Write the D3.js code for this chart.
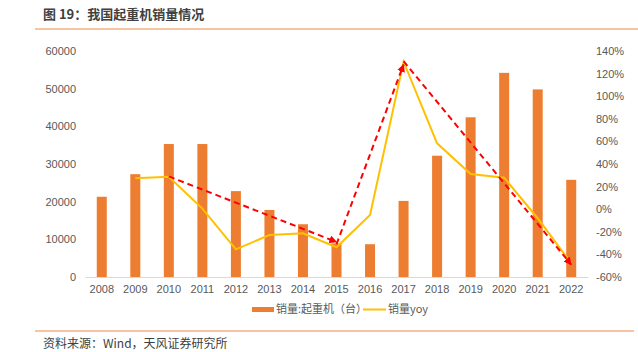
<!DOCTYPE html>
<html><head><meta charset="utf-8">
<script src="https://cdn.jsdelivr.net/npm/d3@7"></script>
<style>body{margin:0;background:#fff;} svg{display:block;font-family:"Noto Sans CJK SC","Liberation Sans",Arial,sans-serif;}</style>
</head><body>
<svg id="c" width="638" height="352"></svg>
<script>
const years = ["2008","2009","2010","2011","2012","2013","2014","2015","2016","2017","2018","2019","2020","2021","2022"];
const sales = [21300,27300,35300,35300,22800,17800,14000,8900,8700,20200,32200,42400,54200,49800,25800];
const yoy = [null,27.3,28.8,0.5,-35.5,-22.8,-21.3,-33.7,-5.1,130.5,58.3,31.2,27.9,-8,-47.9];
const leftTicks = [0,10000,20000,30000,40000,50000,60000];
const rightTicks = [-60,-40,-20,0,20,40,60,80,100,120,140];
const trendFrom = [["2010",29],["2015",-31],["2017",131]];
const trendTo = [["2015",-29],["2017",128],["2022",-49]];

(function(){
const svg = d3.select("#c");
const pL = 85, pR = 588, pT = 51, pB = 277;
const x = d3.scaleBand().domain(years).range([pL,pR]);
const yL = d3.scaleLinear().domain([0,60000]).range([pB,pT]);
const yR = d3.scaleLinear().domain([-60,140]).range([pB,pT]);
const cx = d => x(d)+x.bandwidth()/2;

// title
svg.append("text").attr("x",43).attr("y",19).attr("font-size",13).attr("font-weight","bold").attr("fill","#404040").text("图 19：我国起重机销量情况");
svg.append("line").attr("x1",35).attr("x2",638).attr("y1",29).attr("y2",29).attr("stroke","#f4b183").attr("stroke-width",1.5);

// axes
const axL = svg.append("g").attr("transform",`translate(${pL},0)`).call(d3.axisLeft(yL).tickValues(leftTicks).tickSize(0).tickPadding(9).tickFormat(d3.format("d")));
const axR = svg.append("g").attr("transform",`translate(${pR},0)`).call(d3.axisRight(yR).tickValues(rightTicks).tickSize(0).tickPadding(8).tickFormat(d=>d+"%"));
const axB = svg.append("g").attr("transform",`translate(0,${pB})`).call(d3.axisBottom(x).tickSize(0).tickPadding(8));
[axL,axR].forEach(a=>a.select(".domain").remove());
axB.select(".domain").attr("stroke","#d9d9d9");
svg.selectAll(".tick text").attr("font-size",11).attr("fill","#595959").attr("font-family","Liberation Sans, Arial, sans-serif");

// bars
svg.append("g").selectAll("rect").data(sales).join("rect")
 .attr("x",(d,i)=>cx(years[i])-5).attr("width",10)
 .attr("y",d=>yL(d)).attr("height",d=>pB-yL(d)).attr("fill","#ed7d31");

// yoy line
const line = d3.line().defined(d=>d.v!==null).x(d=>cx(d.y)).y(d=>yR(d.v));
svg.append("path").datum(years.map((y,i)=>({y,v:yoy[i]}))).attr("d",line)
 .attr("fill","none").attr("stroke","#ffc000").attr("stroke-width",2);

// trend arrows
const defs = svg.append("defs");
defs.append("marker").attr("id","arr").attr("viewBox","0 0 10 10").attr("refX",9).attr("refY",5)
 .attr("markerWidth",4).attr("markerHeight",4).attr("orient","auto")
 .append("path").attr("d","M0,0L10,5L0,10z").attr("fill","#ff0000");
svg.append("g").selectAll("line").data(trendFrom).join("line")
 .attr("x1",d=>cx(d[0])).attr("y1",d=>yR(d[1]))
 .attr("x2",(d,i)=>cx(trendTo[i][0])).attr("y2",(d,i)=>yR(trendTo[i][1]))
 .attr("stroke","#ff0000").attr("stroke-width",2).attr("stroke-dasharray","6,4").attr("marker-end","url(#arr)");

// legend
svg.append("rect").attr("x",252).attr("y",307).attr("width",22).attr("height",5).attr("fill","#ed7d31");
svg.append("text").attr("x",276).attr("y",313).attr("font-size",11).attr("fill","#595959").text("销量:起重机（台）");
svg.append("line").attr("x1",363).attr("x2",386).attr("y1",309.5).attr("y2",309.5).attr("stroke","#ffc000").attr("stroke-width",2);
svg.append("text").attr("x",388).attr("y",313).attr("font-size",11).attr("fill","#595959").text("销量yoy");

// footer
svg.append("line").attr("x1",35).attr("x2",634).attr("y1",331).attr("y2",331).attr("stroke","#f4b183").attr("stroke-width",1.5);
svg.append("text").attr("x",43).attr("y",348).attr("font-size",12).attr("fill","#404040").text("资料来源：Wind，天风证券研究所");
})();
</script>
</body></html>
